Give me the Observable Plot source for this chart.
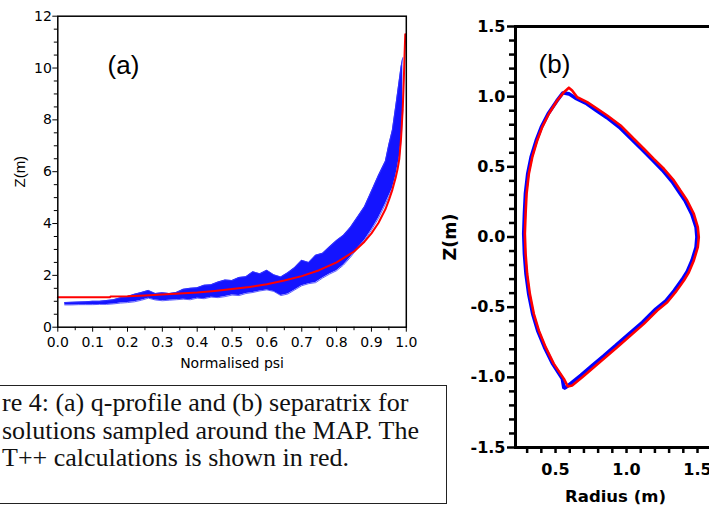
<!DOCTYPE html>
<html><head><meta charset="utf-8">
<script src="https://cdn.jsdelivr.net/npm/d3@7"></script>
<script src="https://cdn.jsdelivr.net/npm/@observablehq/plot@0.6"></script>
<style>
html,body{margin:0;padding:0;background:#fff;}
#wrap{position:relative;width:709px;height:506px;overflow:hidden;background:#fff;}
#pa{position:absolute;left:0;top:0;width:420px;}
#pb{position:absolute;left:440px;top:0;width:320px;}
#wrap svg{max-width:none !important;}
#cap{position:absolute;left:-10px;top:385px;width:457px;height:119px;border:1.5px solid #222;box-sizing:border-box;
 font-family:"Liberation Serif","Times New Roman",serif;font-size:26px;line-height:27.5px;padding-left:11px;padding-top:3px;color:#111;white-space:nowrap;}
</style></head>
<body><div id="wrap"><div id="pa"></div><div id="pb"></div>
<div id="cap"><div>re 4: (a) q-profile and (b) separatrix for</div><div>solutions sampled around the MAP. The</div><div>T++ calculations is shown in red.</div></div>
</div>
<script>
// ---------- Panel (a): q-profile ----------
const psiRed = [0, 0.15, 0.151, 0.2, 0.25, 0.3, 0.35, 0.4, 0.45, 0.5, 0.55, 0.6, 0.65, 0.7, 0.75, 0.8, 0.85, 0.88, 0.9, 0.92, 0.94, 0.95, 0.96, 0.97, 0.975, 0.98, 0.985, 0.99, 0.993, 0.995, 0.997];
const qRed   = [1.16, 1.16, 1.18, 1.19, 1.22, 1.26, 1.30, 1.34, 1.40, 1.47, 1.55, 1.66, 1.80, 1.97, 2.20, 2.50, 2.92, 3.30, 3.62, 4.02, 4.55, 4.90, 5.30, 5.80, 6.10, 6.50, 7.30, 8.50, 9.60, 10.5, 11.3];

const psiBand = [0.02,0.04,0.06,0.08,0.10,0.12,0.14,0.16,0.18,0.20,0.22,0.24,0.26,0.28,0.30,0.32,0.34,0.36,0.38,0.40,0.42,0.44,0.46,0.48,0.50,0.52,0.54,0.56,0.58,0.60,0.62,0.64,0.66,0.68,0.70,0.72,0.74,0.76,0.78,0.80,0.82,0.84,0.86,0.88,0.90,0.92,0.94,0.95,0.96,0.97,0.98,0.985,0.99];
const qLow  = [0.86,0.86,0.87,0.87,0.87,0.88,0.88,0.90,0.93,0.95,0.98,1.04,1.12,1.05,1.02,1.04,1.06,1.08,1.06,1.12,1.10,1.16,1.14,1.18,1.24,1.22,1.30,1.34,1.40,1.44,1.38,1.22,1.28,1.44,1.60,1.68,1.72,1.90,2.05,2.18,2.40,2.70,3.05,3.35,3.75,4.20,4.75,5.05,5.35,5.85,6.55,7.20,8.40];
const qHigh = [0.95,0.96,0.97,0.98,1.00,1.00,1.03,1.06,1.14,1.18,1.27,1.34,1.42,1.30,1.33,1.30,1.34,1.46,1.50,1.52,1.62,1.64,1.74,1.82,1.80,1.92,1.95,2.14,2.06,2.20,2.02,1.94,2.10,2.30,2.58,2.50,2.78,2.85,3.10,3.35,3.55,3.86,4.25,4.65,5.25,5.85,6.40,7.05,7.60,8.55,9.55,10.05,10.40];

const xTicksA = [0,0.1,0.2,0.3,0.4,0.5,0.6,0.7,0.8,0.9,1.0];
const xTickLabelsA = ["0.0","0.1","0.2","0.3","0.4","0.5","0.6","0.7","0.8","0.9","1.0"];
const xMinorA = [0.05,0.15,0.25,0.35,0.45,0.55,0.65,0.75,0.85,0.95];
const yTicksA = [0,2,4,6,8,10,12];
const yTickLabelsA = ["0","2","4","6","8","10","12"];
const yMinorA = [0.5,1,1.5,2.5,3,3.5,4.5,5,5.5,6.5,7,7.5,8.5,9,9.5,10.5,11,11.5];

// ---------- Panel (b): separatrix ----------
const rRed = [0.594,0.617,0.653,0.723,0.794,0.864,0.958,1.051,1.122,1.192,1.263,1.333,1.380,1.427,1.474,1.502,1.509,1.502,1.474,1.439,1.404,1.345,1.287,1.216,1.122,1.028,0.934,0.852,0.770,0.688,0.617,0.587,0.559,0.488,0.430,0.382,0.347,0.319,0.300,0.289,0.284,0.289,0.296,0.312,0.336,0.371,0.406,0.453,0.512,0.559,0.594];
const zRed = [1.063,1.044,0.996,0.961,0.914,0.866,0.795,0.700,0.629,0.557,0.486,0.403,0.331,0.260,0.165,0.070,-0.001,-0.073,-0.167,-0.251,-0.310,-0.393,-0.465,-0.524,-0.619,-0.702,-0.785,-0.857,-0.928,-0.999,-1.058,-1.066,-1.011,-0.904,-0.785,-0.666,-0.547,-0.405,-0.262,-0.120,0.023,0.165,0.308,0.450,0.569,0.688,0.783,0.878,0.973,1.032,1.063];
const rBlue = [0.594,0.640,0.720,0.790,0.860,0.950,1.043,1.113,1.183,1.253,1.322,1.368,1.415,1.460,1.490,1.496,1.490,1.462,1.428,1.393,1.335,1.277,1.206,1.112,1.018,0.925,0.842,0.760,0.680,0.612,0.575,0.559,0.548,0.480,0.422,0.374,0.339,0.311,0.292,0.281,0.276,0.281,0.288,0.304,0.328,0.364,0.400,0.448,0.508,0.552,0.594];
const zBlue = [1.020,0.990,0.950,0.900,0.852,0.782,0.690,0.620,0.548,0.476,0.394,0.325,0.254,0.163,0.070,0.000,-0.073,-0.165,-0.245,-0.302,-0.384,-0.455,-0.514,-0.608,-0.690,-0.772,-0.845,-0.915,-0.985,-1.040,-1.070,-1.078,-1.010,-0.904,-0.785,-0.666,-0.547,-0.405,-0.262,-0.120,0.023,0.165,0.308,0.450,0.569,0.688,0.783,0.878,0.968,1.028,1.020];

const xTicksB = [0.5,1.0,1.5];
const xTickLabelsB = ["0.5","1.0","1.5"];
const xMinorB = [0.3,0.4,0.6,0.7,0.8,0.9,1.1,1.2,1.3,1.4,1.6,1.7];
const yTicksB = [-1.5,-1.0,-0.5,0.0,0.5,1.0,1.5];
const yTickLabelsB = ["-1.5","-1.0","-0.5","0.0","0.5","1.0","1.5"];
const yMinorB = [-1.4,-1.3,-1.2,-1.1,-0.9,-0.8,-0.7,-0.6,-0.4,-0.3,-0.2,-0.1,0.1,0.2,0.3,0.4,0.6,0.7,0.8,0.9,1.1,1.2,1.3,1.4];

const band = psiBand.map((p,i)=>({psi:p, lo:qLow[i], hi:qHigh[i]}));
const red = psiRed.map((p,i)=>({psi:p, q:qRed[i]}));
const sepRed = rRed.map((r,i)=>({r, z:zRed[i]}));
const sepBlue = rBlue.map((r,i)=>({r, z:zBlue[i]}));

const fA = "DejaVu Sans";
const plotA = Plot.plot({
  width: 420, height: 380,
  marginLeft: 57.3, marginRight: 14.2, marginTop: 15.7, marginBottom: 53.3,
  x: {domain: [0, 1]}, y: {domain: [0, 12]},
  style: {background: "transparent", color: "black", overflow: "visible", maxWidth: "none"},
  marks: [
    Plot.areaY(band, {x: "psi", y1: "lo", y2: "hi", fill: "#0000ff", fillOpacity: 0.92, curve: "linear"}),
    Plot.line(band, {x: "psi", y: "lo", stroke: "#3a3aff", strokeWidth: 0.8}),
    Plot.line(band, {x: "psi", y: "hi", stroke: "#3a3aff", strokeWidth: 0.8}),
    Plot.line(red, {x: "psi", y: "q", stroke: "#ff0000", strokeWidth: 2}),
    Plot.frame({stroke: "black", strokeWidth: 1.5}),
    Plot.axisY(yTicksA, {anchor: "left", tickSize: 5, tickPadding: 1, stroke: "black", fill: "black",
      tickFormat: d => yTickLabelsA[yTicksA.indexOf(d)], fontSize: 14, fontFamily: fA, label: null}),
    Plot.axisY(yMinorA, {anchor: "left", tickSize: 3.5, stroke: "black", fill: "none", label: null}),
    Plot.axisX(xTicksA, {anchor: "bottom", tickSize: 5, tickPadding: 5, stroke: "black", fill: "black",
      tickFormat: d => xTickLabelsA[xTicksA.indexOf(d)], fontSize: 14, fontFamily: fA, label: null}),
    Plot.axisX(xMinorA, {anchor: "bottom", tickSize: 3.5, stroke: "black", fill: "none", label: null}),
    Plot.text(["Normalised psi"], {text: d => d, frameAnchor: "bottom", dy: 36, fontSize: 14, fontFamily: fA, fill: "black", textAnchor: "middle", lineAnchor: "middle"}),
    Plot.text(["Z(m)"], {text: d => d, frameAnchor: "left", dx: -37.3, rotate: -90, fontSize: 15, fontFamily: "Liberation Sans", fill: "black", textAnchor: "middle", lineAnchor: "middle"}),
    Plot.text(["(a)"], {text: d => d, frameAnchor: "top-left", dx: 65.7, dy: 49.3, fontSize: 26, fontFamily: "Liberation Sans", fill: "black", textAnchor: "middle", lineAnchor: "middle"})
  ]
});
document.getElementById("pa").appendChild(plotA);

const fB = "DejaVu Sans";
const plotB = Plot.plot({
  width: 320, height: 506,
  marginLeft: 75, marginRight: 20.4, marginTop: 26, marginBottom: 59,
  x: {domain: [0.218, 1.8]}, y: {domain: [-1.5, 1.5]},
  style: {background: "transparent", color: "black", overflow: "visible", maxWidth: "none"},
  marks: [
    Plot.line(sepBlue, {x: "r", y: "z", stroke: "#0000ff", strokeWidth: 3.6, strokeLinejoin: "miter"}),
    Plot.line(sepRed, {x: "r", y: "z", stroke: "#ff0000", strokeWidth: 2.6, strokeLinejoin: "miter"}),
    Plot.frame({stroke: "black", strokeWidth: 3}),
    Plot.axisY(yTicksB, {anchor: "left", tickSize: 8, tickPadding: 2, stroke: "black", strokeWidth: 2.5, fill: "black",
      tickFormat: d => yTickLabelsB[yTicksB.indexOf(d)], fontSize: 16, fontWeight: "bold", fontFamily: fB, label: null}),
    Plot.axisY(yMinorB, {anchor: "left", tickSize: 6, stroke: "black", strokeWidth: 2.5, fill: "none", label: null}),
    Plot.axisX(xTicksB, {anchor: "bottom", tickSize: 6, tickPadding: 10, stroke: "black", strokeWidth: 2.5, fill: "black",
      tickFormat: d => xTickLabelsB[xTicksB.indexOf(d)], fontSize: 16, fontWeight: "bold", fontFamily: fB, label: null}),
    Plot.axisX(xMinorB, {anchor: "bottom", tickSize: 6, stroke: "black", strokeWidth: 2.5, fill: "none", label: null}),
    Plot.text(["Radius (m)"], {text: d => d, frameAnchor: "bottom-left", dx: 100, dy: 49, fontSize: 16.5, fontWeight: "bold", fontFamily: fB, fill: "black", textAnchor: "middle", lineAnchor: "middle"}),
    Plot.text(["Z(m)"], {text: d => d, frameAnchor: "left", dx: -65, rotate: -90, fontSize: 17.5, fontWeight: "bold", fontFamily: fB, fill: "black", textAnchor: "middle", lineAnchor: "middle"}),
    Plot.text(["(b)"], {text: d => d, frameAnchor: "top-left", dx: 39, dy: 38, fontSize: 26, fontFamily: "Liberation Sans", fill: "black", textAnchor: "middle", lineAnchor: "middle"})
  ]
});
document.getElementById("pb").appendChild(plotB);
</script>
</body></html>
